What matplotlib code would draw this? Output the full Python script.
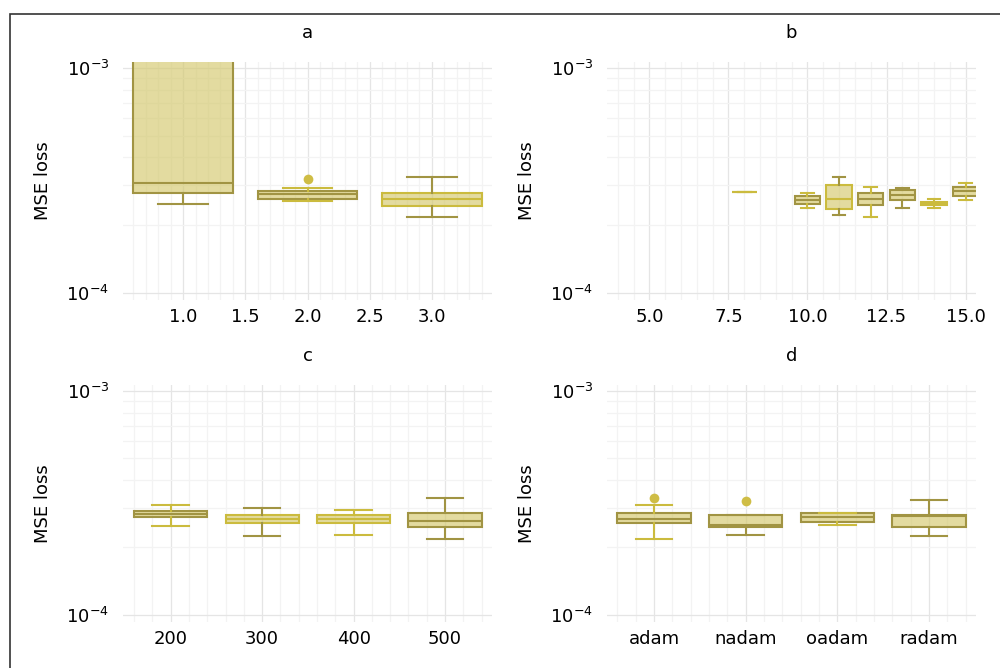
import matplotlib
matplotlib.use("Agg")
import matplotlib.pyplot as plt
import matplotlib.ticker as ticker
from matplotlib.patches import Rectangle
import numpy as np

# ---- data ----
# panel a
a_pos = [1.0, 2.0, 3.0]
a_q1 = [2.77e-4, 2.62e-4, 2.44e-4]
a_med = [3.07e-4, 2.74e-4, 2.60e-4]
a_q3 = [1.6e-3, 2.83e-4, 2.77e-4]
a_lo = [2.47e-4, 2.55e-4, 2.16e-4]
a_hi = [2.0e-3, 2.92e-4, 3.27e-4]
a_fliers = [[], [3.19e-4], []]

# panel b
b_pos = [8, 10, 11, 12, 13, 14, 15]
b_q1 = [2.81e-4, 2.49e-4, 2.36e-4, 2.45e-4, 2.59e-4, 2.46e-4, 2.70e-4]
b_med = [2.81e-4, 2.58e-4, 2.60e-4, 2.60e-4, 2.72e-4, 2.51e-4, 2.83e-4]
b_q3 = [2.81e-4, 2.69e-4, 3.01e-4, 2.77e-4, 2.86e-4, 2.54e-4, 2.96e-4]
b_lo = [2.81e-4, 2.39e-4, 2.21e-4, 2.16e-4, 2.39e-4, 2.39e-4, 2.59e-4]
b_hi = [2.81e-4, 2.77e-4, 3.27e-4, 2.95e-4, 2.92e-4, 2.60e-4, 3.08e-4]

# panel c
c_pos = [200, 300, 400, 500]
c_q1 = [2.72e-4, 2.57e-4, 2.58e-4, 2.46e-4]
c_med = [2.82e-4, 2.67e-4, 2.69e-4, 2.63e-4]
c_q3 = [2.91e-4, 2.79e-4, 2.79e-4, 2.84e-4]
c_lo = [2.49e-4, 2.25e-4, 2.27e-4, 2.18e-4]
c_hi = [3.10e-4, 2.99e-4, 2.94e-4, 3.32e-4]

# panel d
d_labels = ['adam', 'nadam', 'oadam', 'radam']
d_q1 = [2.57e-4, 2.46e-4, 2.60e-4, 2.46e-4]
d_med = [2.68e-4, 2.51e-4, 2.74e-4, 2.75e-4]
d_q3 = [2.85e-4, 2.78e-4, 2.85e-4, 2.79e-4]
d_lo = [2.18e-4, 2.27e-4, 2.51e-4, 2.25e-4]
d_hi = [3.10e-4, 2.79e-4, 2.86e-4, 3.26e-4]
d_fliers = [[3.32e-4], [3.22e-4], [], []]

fill = (0.83, 0.784, 0.427, 0.65)
dark = '#a19443'
yel = '#cbbb3e'
W, H = 1000, 668

fig = plt.figure(figsize=(10, 6.68), dpi=100)
fig.patches.append(Rectangle((10 / W, -0.1), 1.1, 1.1 - 14 / H, transform=fig.transFigure,
                             fill=False, edgecolor='#333333', lw=1.2, zorder=0))


def make_ax(x0, top, bottom, title):
    ax = fig.add_axes([x0 / W, 1 - bottom / H, 369 / W, (bottom - top) / H])
    ax.set_yscale('log')
    ax.set_ylim(10 ** -4.033, 10 ** -2.973)
    for s in ax.spines.values():
        s.set_visible(False)
    ax.yaxis.set_minor_locator(ticker.LogLocator(base=10, subs=np.arange(2, 10)))
    ax.yaxis.set_minor_formatter(ticker.NullFormatter())
    ax.xaxis.set_minor_locator(ticker.AutoMinorLocator(5))
    ax.grid(True, which='major', color='#e5e5e5', lw=0.9)
    ax.grid(True, which='minor', color='#f3f3f3', lw=0.9)
    ax.set_axisbelow(True)
    ax.tick_params(which='both', length=0, labelsize=13)
    ax.tick_params(axis='y', pad=10)
    ax.tick_params(axis='x', pad=6)
    ax.set_ylabel('MSE loss', fontsize=13, labelpad=10)
    ax.set_title(title, fontsize=13, pad=17)
    return ax


def draw(ax, pos, q1, med, q3, lo, hi, unit, box_cols, wh_cols, fliers=None):
    stats = []
    for i in range(len(pos)):
        stats.append(dict(med=med[i], q1=q1[i], q3=q3[i], whislo=lo[i], whishi=hi[i],
                          fliers=fliers[i] if fliers else []))
    bp = ax.bxp(stats, positions=pos, widths=0.8 * unit, capwidths=0.4 * unit,
                patch_artist=True, manage_ticks=False,
                boxprops=dict(facecolor=fill, lw=1.5),
                medianprops=dict(lw=1.5),
                whiskerprops=dict(lw=1.5), capprops=dict(lw=1.5),
                flierprops=dict(marker='o', markersize=7, markerfacecolor='#cfbd45',
                                markeredgecolor='none'))
    for i in range(len(pos)):
        bp['boxes'][i].set_edgecolor(box_cols[i])
        bp['medians'][i].set_color(box_cols[i])
        for k in (2 * i, 2 * i + 1):
            bp['whiskers'][k].set_color(wh_cols[i])
            bp['caps'][k].set_color(wh_cols[i])


ax = make_ax(123, 62, 300, 'a')
draw(ax, a_pos, a_q1, a_med, a_q3, a_lo, a_hi, 1, [dark, dark, yel], [dark, yel, dark], a_fliers)
ax.set_xlim(0.517, 3.483)
ax.xaxis.set_major_locator(ticker.MultipleLocator(0.5))
ax.xaxis.set_major_formatter(ticker.FormatStrFormatter('%.1f'))

ax = make_ax(607, 62, 300, 'b')
draw(ax, b_pos, b_q1, b_med, b_q3, b_lo, b_hi, 1,
     [yel, dark, yel, dark, dark, yel, dark], [yel, yel, dark, yel, dark, yel, yel])
ax.set_xlim(3.66, 15.33)
ax.xaxis.set_major_locator(ticker.MultipleLocator(2.5))
ax.xaxis.set_major_formatter(ticker.FormatStrFormatter('%.1f'))

ax = make_ax(123, 385, 622, 'c')
draw(ax, c_pos, c_q1, c_med, c_q3, c_lo, c_hi, 100, [dark, yel, yel, dark], [yel, dark, yel, dark])
ax.set_xlim(147.8, 551.4)
ax.set_xticks(c_pos)

ax = make_ax(607, 385, 622, 'd')
d_pos = np.arange(1, len(d_labels) + 1)
draw(ax, d_pos, d_q1, d_med, d_q3, d_lo, d_hi, 1, [dark, dark, dark, dark], [yel, dark, yel, dark], d_fliers)
ax.set_xlim(0.486, 4.514)
ax.set_xticks(d_pos)
ax.set_xticklabels(d_labels)

fig.savefig('out.png', dpi=100)
